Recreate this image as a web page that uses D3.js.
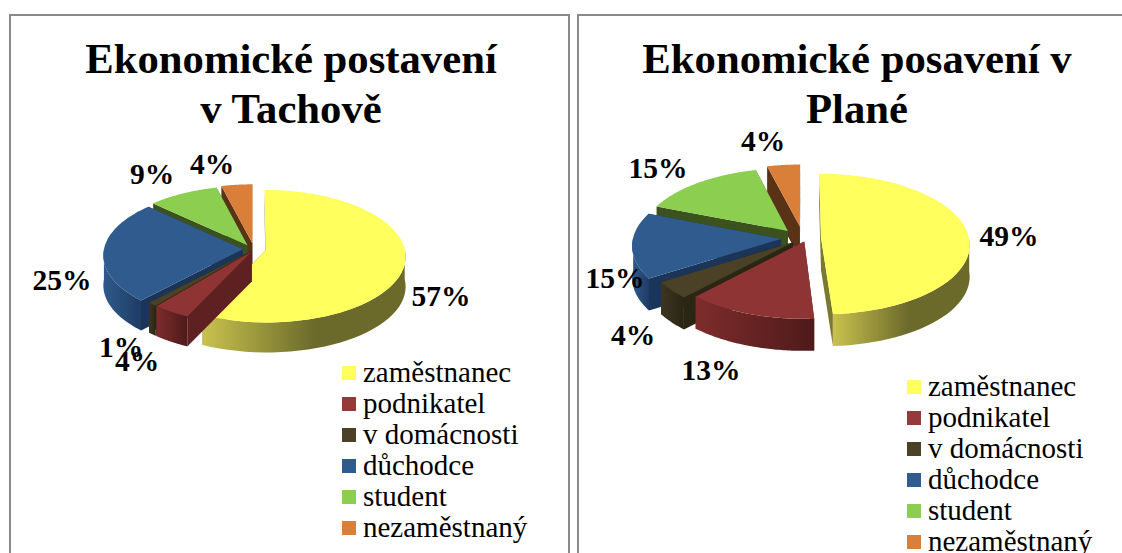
<!DOCTYPE html>
<html><head><meta charset="utf-8">
<script src="https://cdn.jsdelivr.net/npm/d3@7"></script>
<style>html,body{margin:0;padding:0;background:#fff;overflow:hidden}svg{display:block}</style>
</head><body>
<svg id="c" width="1122" height="553"></svg>
<script>
const categories = ["zaměstnanec","podnikatel","v domácnosti","důchodce","student","nezaměstnaný"];
const tachovValues = [57,4,1,25,9,4];
const planaValues = [49,13,4,15,15,4];
const tachovTitle = ["Ekonomické postavení","v Tachově"];
const planaTitle = ["Ekonomické posavení v","Plané"];
const topColors = ["#FFFF5E","#8E3434","#4A4127","#305B8E","#8CCE50","#D97F3A"];
const wallStops = [
 [[0,"#C9C24E"],[0.55,"#6B6A2B"],[1,"#6B6A2B"]],
 [[0,"#7E2C2C"],[1,"#4E1A1A"]],
 [[0,"#3D3522"],[1,"#2A2614"]],
 [[0,"#2F5A8C"],[1,"#1E3C64"]],
 [[0,"#3B521F"],[1,"#3B521F"]],
 [[0,"#5A3317"],[1,"#5A3317"]]
];
const cutColors = ["#7A7930","#5E2020","#2A2614","#1B3558","#3B521F","#5A3317"];

const charts = [
 {id:"a",values:tachovValues,title:tachovTitle,titleX:291,titleY:[73,123],cx:252,cy:249,R:139,depth:30,explode:[12,6,6,9,9,12],nudge:[2,3,3,0,0,2],
  labels:[[441,296],[137,361],[121,347],[62,280],[152,174],[212,164]],legendX:342,legendY:373},
 {id:"b",values:planaValues,title:planaTitle,titleX:857,titleY:[73,123],cx:801,cy:238,R:148,depth:32,explode:[20,8,14,20,20,25],nudge:[0,6,3,0,0,2],
  labels:[[1009,236],[711,370],[633,335],[615,278],[658,168],[763,141]],legendX:907,legendY:387}
];
const tilt=0.475, persp=0.09;
const svg=d3.select("#c");
const defs=svg.append("defs");
const serif='"Liberation Serif","Times New Roman",serif';

svg.append("rect").attr("x",10).attr("y",15).attr("width",559).attr("height",600).attr("fill","none").attr("stroke","#8a8a8a").attr("stroke-width",2);
svg.append("rect").attr("x",578).attr("y",15).attr("width",600).attr("height",600).attr("fill","none").attr("stroke","#8a8a8a").attr("stroke-width",2);

charts.forEach(ch=>{
  const g=svg.append("g");
  ch.title.forEach((t,i)=>g.append("text").text(t).attr("x",ch.titleX).attr("y",ch.titleY[i])
    .attr("text-anchor","middle").attr("font-family",serif).attr("font-weight","bold").attr("font-size",42.7).attr("fill","#000"));
  const arcs=d3.pie().sort(null).value(d=>d)(ch.values);
  const R=ch.R;
  // projection: a polar point (angle clockwise from top, radius) on a slice shifted outward along its mid-angle
  const proj=(a,r,mid,e,n,drop=0)=>{
    const X=Math.sin(a)*r+Math.sin(mid)*e;
    const Y=-Math.cos(a)*r-Math.cos(mid)*e;
    const s=1+persp*Y/R;
    return [ch.cx+n+X*s, ch.cy+Y*tilt*s+drop];
  };
  const line=d3.line();
  const order=arcs.map((d,i)=>({d,i})).sort((p,q)=>{
    const m=x=>(x.d.startAngle+x.d.endAngle)/2;
    return -Math.cos(m(p))- -Math.cos(m(q));
  });
  order.forEach(({d,i})=>{
    const mid=(d.startAngle+d.endAngle)/2, e=ch.explode[i], n=ch.nudge[i];
    const span=d3.range(0,61).map(k=>d.startAngle+(d.endAngle-d.startAngle)*k/60);
    const gid="w"+ch.id+i;
    const lg=defs.append("linearGradient").attr("id",gid).attr("x1",0).attr("x2",1).attr("y1",0).attr("y2",0);
    wallStops[i].forEach(s=>lg.append("stop").attr("offset",s[0]).attr("stop-color",s[1]));
    const apex=proj(0,0,mid,e,n);
    // radial cut walls
    [d.startAngle,d.endAngle].forEach(a=>{
      const o=proj(a,R,mid,e,n);
      g.append("path").attr("d",line([apex,o,[o[0],o[1]+ch.depth],[apex[0],apex[1]+ch.depth]])+"Z").attr("fill",cutColors[i]);
    });
    // outer rim wall, front part only
    const front=span.filter(a=>Math.cos(a)<=0.02);
    if(front.length>1){
      const up=front.map(a=>proj(a,R,mid,e,n));
      const dn=front.slice().reverse().map(a=>proj(a,R,mid,e,n,ch.depth));
      g.append("path").attr("d",line(up.concat(dn))+"Z").attr("fill",`url(#${gid})`);
    }
    // top face
    const top=[apex].concat(span.map(a=>proj(a,R,mid,e,n)));
    g.append("path").attr("d",line(top)+"Z").attr("fill",topColors[i]);
  });
  ch.labels.forEach((p,i)=>g.append("text").text(ch.values[i]+"%").attr("x",p[0]).attr("y",p[1]+10)
    .attr("text-anchor","middle").attr("font-family",serif).attr("font-weight","bold").attr("font-size",29.5).attr("fill","#000"));
  categories.forEach((c,i)=>{
    const y=ch.legendY+i*31;
    g.append("rect").attr("x",ch.legendX).attr("y",y-7).attr("width",14).attr("height",14).attr("fill",topColors[i]==="#8E3434"?"#943A3A":topColors[i]);
    g.append("text").text(c).attr("x",ch.legendX+21).attr("y",y+9).attr("font-family",serif).attr("font-size",29).attr("fill","#000");
  });
});
</script>
</body></html>
